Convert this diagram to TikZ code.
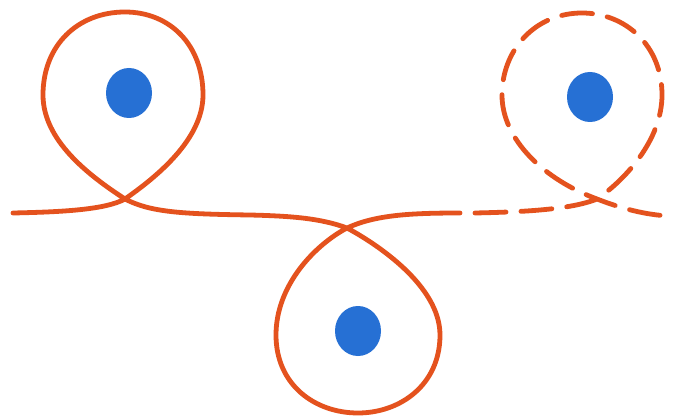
\documentclass[tikz,border=0pt]{standalone}
\definecolor{rope}{RGB}{228,82,30}
\definecolor{pin}{RGB}{38,112,212}
\begin{document}
\begin{tikzpicture}[x=1pt,y=-1pt,
  ropeline/.style={draw=rope,line width=4.8pt,line cap=round},
  ropedash/.style={ropeline,dash pattern=on 31pt off 15pt},
  pindot/.style={fill=pin}]
\useasboundingbox (0,0) rectangle (675,417);
\fill[white] (0,0) rectangle (675,417);
% pins
\fill[pindot] (129,93) ellipse [x radius=23, y radius=25];
\fill[pindot] (358,331) ellipse [x radius=23, y radius=25];
\fill[pindot] (590,97) ellipse [x radius=23, y radius=25];
% solid rope
\draw[ropeline] (13,213) .. controls (60,212) and (105,210) .. (125,199)
  .. controls (155,178) and (203,140) .. (203,95)
  .. controls (203,45) and (170,12) .. (125,12)
  .. controls (78,12) and (43,45) .. (43,95)
  .. controls (43,140) and (88,175) .. (125,199)
  .. controls (150,212) and (180,214) .. (250,215)
  .. controls (290,216) and (320,218) .. (347,228)
  .. controls (375,243) and (440,285) .. (440,335)
  .. controls (440,385) and (400,413) .. (358,413)
  .. controls (315,413) and (276,385) .. (276,335)
  .. controls (276,285) and (315,245) .. (347,228)
  .. controls (375,215) and (410,213) .. (460,213);
% dashed rope
\draw[ropedash] (475,213) .. controls (520,212) and (570,210) .. (597,199)
  .. controls (625,180) and (662,140) .. (662,95)
  .. controls (662,45) and (625,13) .. (582,13)
  .. controls (535,13) and (502,50) .. (502,95)
  .. controls (502,140) and (545,180) .. (597,199)
  .. controls (620,208) and (645,215) .. (670,216);
\end{tikzpicture}
\end{document}
